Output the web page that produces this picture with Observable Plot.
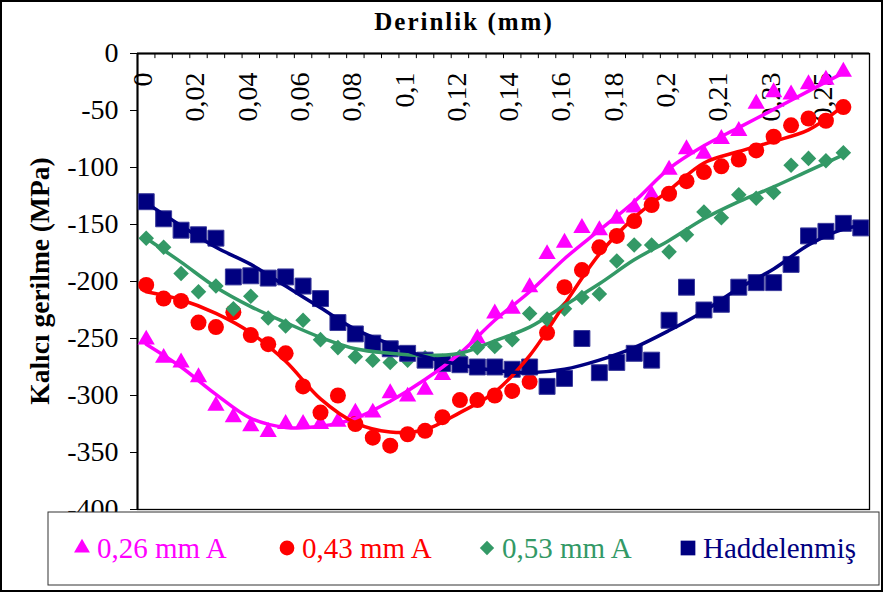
<!DOCTYPE html>
<html>
<head>
<meta charset="utf-8">
<script src="https://cdn.jsdelivr.net/npm/d3@7"></script>
<script src="https://cdn.jsdelivr.net/npm/@observablehq/plot@0.6"></script>
<style>
  html, body { margin: 0; padding: 0; background: #fff; }
  svg { display: block; }
</style>
</head>
<body>
<div id="chart"></div>
<script>
// ---------------- data ----------------
// Category axis (Excel-style): 42 depth categories, labelled every 3rd category
const xLabels = ["0", "0,02", "0,04", "0,06", "0,08", "0,1", "0,12", "0,14", "0,16", "0,18", "0,2", "0,21", "0,23", "0,25"];
const labelStep = 3;
const nCategories = 42;
const yTicks = [0, -50, -100, -150, -200, -250, -300, -350, -400];

const seriesNames = ["0,26 mm A", "0,43 mm A", "0,53 mm A", "Haddelenmiş"];
const seriesColors = ["#FF00FF", "#FF0000", "#339966", "#000080"];
const seriesSymbols = ["triangle", "circle", "diamond2", "square"];

// measured residual stress (MPa), one value per depth category
const v026 = [-251, -267, -271, -284, -309, -319, -327, -332, -325, -325, -325, -323, -315, -315, -298, -301, -295, -282, -274, -250,
              -228, -224, -205, -176, -166, -153, -155, -145, -135, -124, -102, -84, -88, -75, -68, -44, -34, -36, -27, -23, -16];
const v043 = [-203, -215, -217, -236, -240, -227, -247, -255, -263, -292, -315, -300, -325, -337, -344, -334, -331, -319, -304, -304,
              -300, -296, -288, -245, -205, -190, -170, -160, -147, -133, -123, -112, -104, -99, -93, -85, -73, -63, -57, -59, -47];
const v053 = [-162, -170, -193, -209, -204, -224, -213, -232, -239, -234, -251, -258, -266, -269, -271, -269, -267, -270, -266, -258,
              -257, -251, -228, -233, -224, -214, -211, -182, -168, -168, -174, -159, -139, -144, -124, -127, -122, -98, -92, -94, -87];
const vHad = [-130, -145, -155, -159, -162, -196, -195, -197, -196, -204, -215, -236, -246, -254, -259, -263, -269, -272, -273, -275,
              -275, -277, -275, -292, -285, -250, -280, -271, -263, -269, -234, -205, -225, -220, -205, -201, -201, -185, -160, -156, -149, -153];

// smoothed trend lines, read at every 2nd category
const trendCats = [0, 2, 4, 6, 8, 10, 12, 14, 16, 18, 20, 22, 24, 26, 28, 30, 32, 34, 36, 38, 40];
const trendCatsHad = [0, 2, 4, 6, 8, 10, 12, 14, 16, 18, 20, 22, 24, 26, 28, 30, 32, 34, 36, 38, 40, 41];
const t026 = [-255, -275, -299, -320, -328, -327, -320, -305, -286, -263, -234, -209, -180, -155, -130, -101, -81, -65, -49, -33, -17];
const t043 = [-209, -216, -228, -245, -270, -303, -324, -332, -330, -315, -297, -265, -220, -176, -144, -120, -96, -86, -77, -67, -46];
const t053 = [-162, -183, -205, -222, -236, -249, -259, -263, -265, -263, -252, -240, -221, -202, -181, -164, -145, -130, -117, -103, -89];
const tHad = [-131, -151, -170, -185, -204, -223, -242, -255, -266, -273, -278, -280, -277, -269, -258, -243, -226, -206, -189, -168, -154, -151];

// ---------------- font detection (prefer a Times-like serif) ----------------
function fontAvailable(name) {
  const c = document.createElement("canvas").getContext("2d");
  const s = "mmmmmmmmmmlli0,26 WQ";
  c.font = "40px monospace"; const a = c.measureText(s).width;
  c.font = `40px '${name}', monospace`; const b = c.measureText(s).width;
  return Math.abs(a - b) > 0.5;
}
const serifCandidates = ["Liberation Serif", "Times New Roman", "Tinos", "Nimbus Roman", "FreeSerif", "DejaVu Serif", "Noto Serif"];
const found = serifCandidates.find(fontAvailable);
const isSerif = !!found;
const FONT = found ? `'${found}', serif` : "'Liberation Sans', Arial, sans-serif";
const k = isSerif ? 1 : 0.93; // sans fallback is wider: shrink a little

// ---------------- build tables ----------------
const measured = [v026, v043, v053, vHad];
const trends = [t026, t043, t053, tHad];
const trendX = [trendCats, trendCats, trendCats, trendCatsHad];
const radii = [6.4, 8, 7, 9];

const pointRows = measured.map((vals, s) => vals.map((v, i) => ({cat: i, value: v, series: seriesNames[s]})));
const trendRows = trends.map((vals, s) => vals.map((v, i) => ({cat: trendX[s][i], value: v, series: seriesNames[s]})));
const boundaries = d3.range(1, nCategories).map(i => i - 0.5);

const marks = [
  Plot.frame({stroke: "#000", strokeWidth: 1.3}),
  Plot.axisY({ticks: yTicks, tickSize: 7, tickPadding: 12, tickFormat: d => String(d),
              fontSize: 28 * k, fontFamily: FONT, label: null, stroke: "#000", fill: "#000"}),
  Plot.ruleX([-0.5], {stroke: "#000", strokeWidth: 2}),
  Plot.ruleY([0], {stroke: "#000", strokeWidth: 2}),
  Plot.ruleX(boundaries, {x: d => d, y1: 0, y2: -4.5, stroke: "#000", strokeWidth: 1}),
  Plot.text(xLabels, {x: (d, i) => i * labelStep, frameAnchor: "top", text: d => d, rotate: -90,
                      textAnchor: "end", lineAnchor: "middle", dy: 19, dx: -3, fontSize: 28 * k, fontFamily: FONT, fill: "#000"})
];
pointRows.forEach((rows, s) => {
  marks.push(Plot.dot(rows, {x: "cat", y: "value", symbol: () => seriesSymbols[s], r: radii[s],
    fill: seriesColors[s], stroke: s === 3 ? "#3a3a9a" : "none", strokeWidth: 1}));
});
trendRows.forEach((rows, s) => {
  marks.push(Plot.line(rows, {x: "cat", y: "value", stroke: seriesColors[s], strokeWidth: 3.5, curve: "catmull-rom"}));
});

const chart = Plot.plot({
  width: 883, height: 592,
  marginLeft: 137, marginRight: 14, marginTop: 53, marginBottom: 83,
  x: {domain: [-0.5, nCategories - 0.5], axis: null},
  y: {domain: [-400, 0], axis: null},
  symbol: {domain: seriesSymbols, range: seriesSymbols},
  style: {fontFamily: FONT, background: "#fff", overflow: "visible"},
  marks
});
document.getElementById("chart").appendChild(chart);

// ---------------- titles, legend, border ----------------
const svg = d3.select(chart.tagName.toLowerCase() === "svg" ? chart : chart.querySelector("svg"));

svg.append("text").text("Derinlik (mm)")
  .attr("x", 464).attr("y", 21).attr("text-anchor", "middle").attr("dominant-baseline", "central")
  .style("font-family", FONT).attr("font-weight", "bold").attr("font-size", 25 * k).attr("letter-spacing", isSerif ? 2 : 1.5)
  .attr("fill", "#000");

svg.append("text").text("Kalıcı gerilme (MPa)")
  .attr("transform", "translate(39,281) rotate(-90)").attr("text-anchor", "middle").attr("dominant-baseline", "central")
  .style("font-family", FONT).attr("font-weight", "bold").attr("font-size", 27.5 * k).attr("fill", "#000");

const lg = svg.append("g");
lg.append("rect").attr("x", 48).attr("y", 512).attr("width", 831).attr("height", 73)
  .attr("fill", "#fff").attr("stroke", "#333").attr("stroke-width", 1);
const legendSymX = [82, 287, 487, 688];
const d3Symbols = {triangle: d3.symbolTriangle, circle: d3.symbolCircle, diamond2: d3.symbolDiamond2, square: d3.symbolSquare};
seriesNames.forEach((name, s) => {
  lg.append("path")
    .attr("d", d3.symbol(d3Symbols[seriesSymbols[s]], Math.PI * radii[s] * radii[s] * 0.85)())
    .attr("transform", `translate(${legendSymX[s]},548)`)
    .attr("fill", seriesColors[s]);
  lg.append("text").text(name)
    .attr("x", legendSymX[s] + 15).attr("y", 558).attr("text-anchor", "start")
    .style("font-family", FONT).attr("font-size", 29 * k).attr("fill", seriesColors[s]);
});

svg.append("rect").attr("x", 1).attr("y", 1).attr("width", 881).attr("height", 590)
  .attr("fill", "none").attr("stroke", "#000").attr("stroke-width", 2);
</script>
</body>
</html>
